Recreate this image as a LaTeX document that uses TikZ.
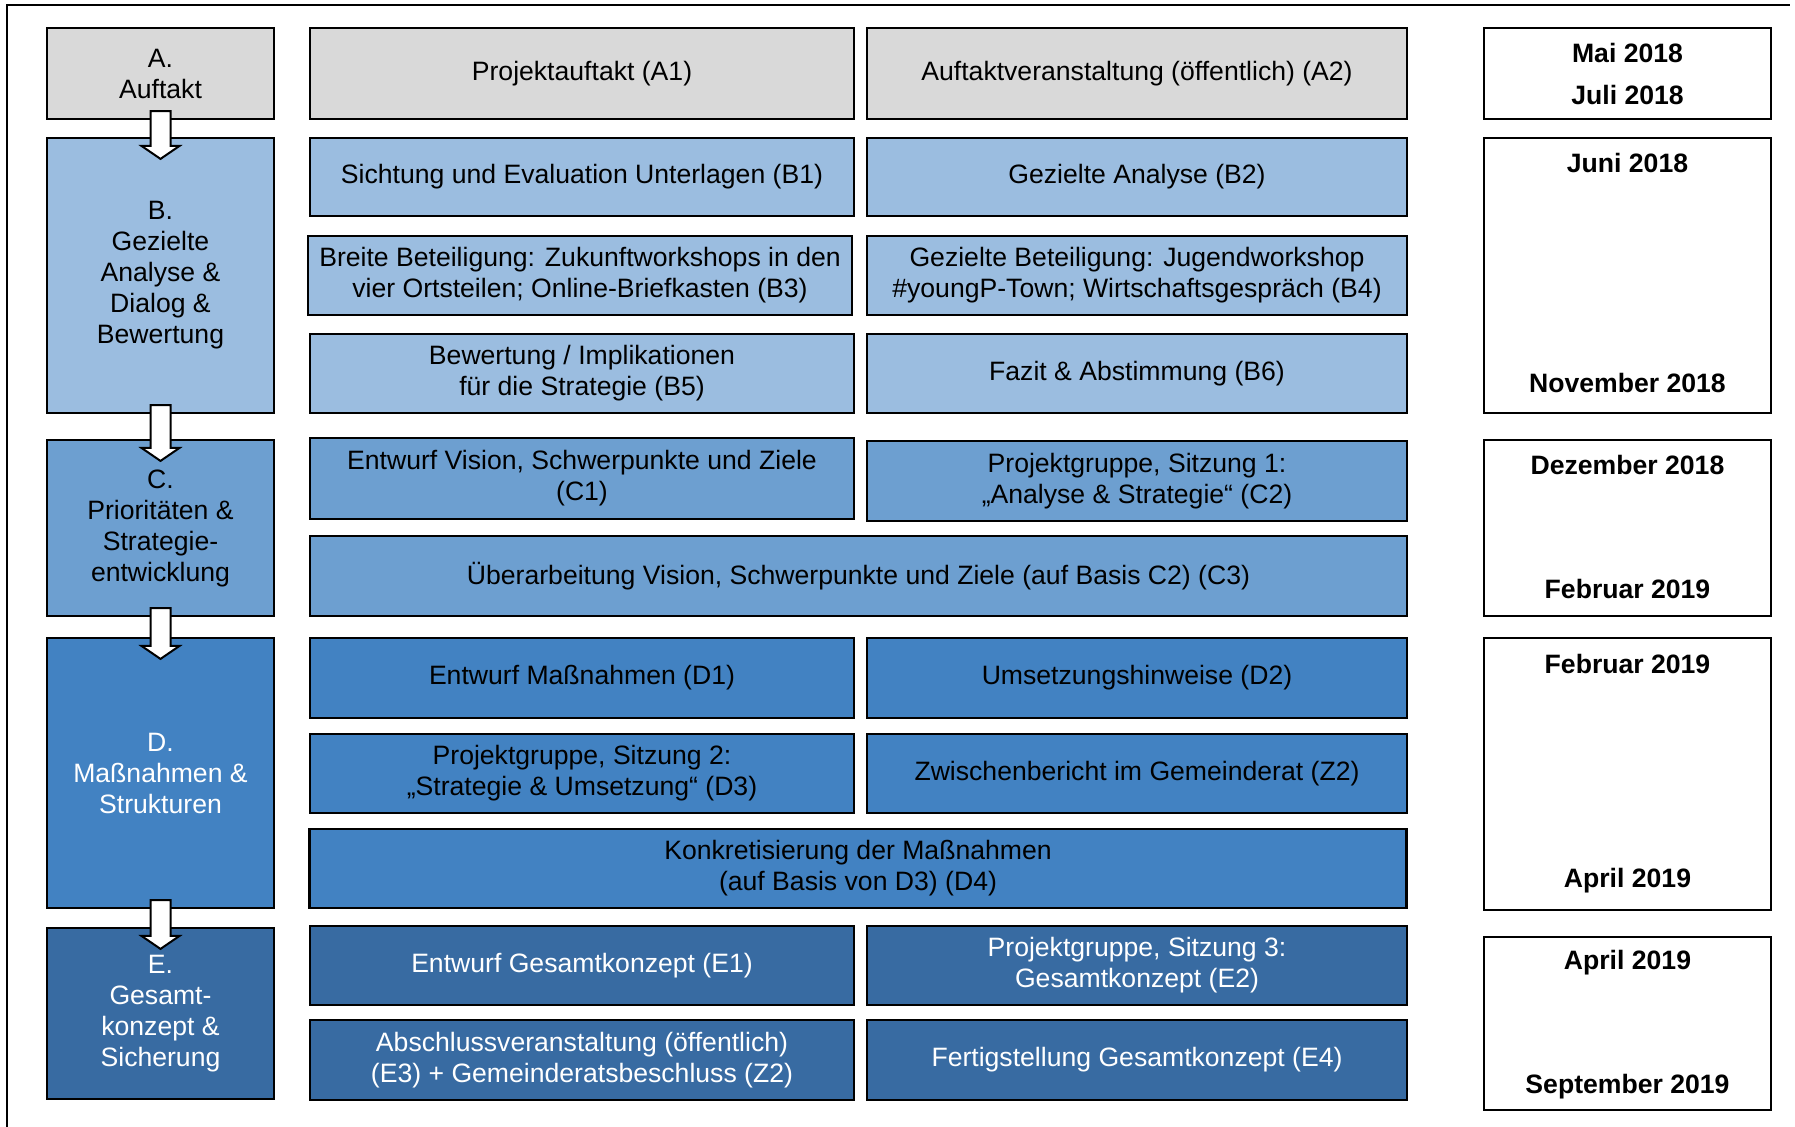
\documentclass[tikz,border=0pt]{standalone}
\usepackage{fontspec}
\setmainfont{Liberation Sans}
\usetikzlibrary{calc}
\definecolor{PhaseGrey}{HTML}{D9D9D9}
\definecolor{PhaseBlueB}{HTML}{9BBDE0}
\definecolor{PhaseBlueC}{HTML}{6D9FD0}
\definecolor{PhaseBlueD}{HTML}{4282C2}
\definecolor{PhaseBlueE}{HTML}{386BA2}

\begin{document}
\begin{tikzpicture}[x=1pt,y=-1pt,font=\fontsize{13.3}{15.5}\selectfont,
  box/.style={draw=black, line width=1.1pt, inner sep=0pt, align=center},
  tall/.style={minimum height=#1pt},
  leftcol/.style={box, minimum width=113.5pt},
  colone/.style={box, minimum width=272pt},
  coltwo/.style={box, minimum width=270pt},
  colwide/.style={box, minimum width=548.5pt},
  datecol/.style={box, minimum width=143.5pt, fill=white},
  phaseA/.style={fill=PhaseGrey, text=black},
  phaseB/.style={fill=PhaseBlueB, text=black},
  phaseC/.style={fill=PhaseBlueC, text=black},
  phaseD/.style={fill=PhaseBlueD, text=black},
  phaseE/.style={fill=PhaseBlueE, text=white},
  datetext/.style={inner sep=0pt, font=\fontsize{13.3}{15.5}\selectfont\bfseries},
  phasearrow/.style={draw=black, line width=1pt, fill=white, line join=miter}
]
\useasboundingbox (0,0) rectangle (897.5,563);
% outer frame
\draw[line width=1.3pt] (3.5,570) -- (3.5,2.5) -- (895,2.5);

% A. Auftakt
\node[leftcol, phaseA, tall=45.5] (A) at (80.25,36.75) {A.\\Auftakt};
\node[colone, phaseA, tall=45.5] (A1) at (291,36.75) {Projektauftakt (A1)};
\node[coltwo, phaseA, tall=45.5] (A2) at (568.5,36.75) {Auftaktveranstaltung (öffentlich) (A2)};
\node[datecol, tall=45.5] (dA) at (813.75,36.75) {};

% B. Analyse & Dialog
\node[leftcol, phaseB, tall=137.5] (B) at (80.25,137.75) {B.\\Gezielte\\Analyse \&\\Dialog \&\\Bewertung};
\node[colone, phaseB, tall=39] (B1) at (291,88.5) {Sichtung und Evaluation Unterlagen (B1)};
\node[coltwo, phaseB, tall=39] (B2) at (568.5,88.5) {Gezielte Analyse (B2)};
\node[colone, phaseB, tall=39.5] (B3) at (290,137.75) {Breite Beteiligung: Zukunftworkshops in den\\vier Ortsteilen; Online-Briefkasten (B3)};
\node[coltwo, phaseB, tall=39.5] (B4) at (568.5,137.75) {Gezielte Beteiligung: Jugendworkshop\\\#youngP-Town; Wirtschaftsgespräch (B4)};
\node[colone, phaseB, tall=39.5] (B5) at (291,186.75) {Bewertung / Implikationen\\für die Strategie (B5)};
\node[coltwo, phaseB, tall=39.5] (B6) at (568.5,186.75) {Fazit \& Abstimmung (B6)};
\node[datecol, tall=137.5] (dB) at (813.75,137.75) {};

% C. Strategie
\node[leftcol, phaseC, tall=88] (C) at (80.25,264) {C.\\Prioritäten \&\\Strategie-\\entwicklung};
\node[colone, phaseC, tall=40.5] (C1) at (291,239.25) {Entwurf Vision, Schwerpunkte und Ziele\\(C1)};
\node[coltwo, phaseC, tall=40] (C2) at (568.5,240.5) {Projektgruppe, Sitzung 1:\\„Analyse \& Strategie“ (C2)};
\node[colwide, phaseC, tall=40] (C3) at (429.25,288) {Überarbeitung Vision, Schwerpunkte und Ziele (auf Basis C2) (C3)};
\node[datecol, tall=88] (dC) at (813.75,264) {};

% D. Massnahmen
\node[leftcol, phaseD, tall=135, text=white] (D) at (80.25,386.5) {D.\\Maßnahmen \&\\Strukturen};
\node[colone, phaseD, tall=40] (D1) at (291,339) {Entwurf Maßnahmen (D1)};
\node[coltwo, phaseD, tall=40] (D2) at (568.5,339) {Umsetzungshinweise (D2)};
\node[colone, phaseD, tall=39.5] (D3) at (291,386.75) {Projektgruppe, Sitzung 2:\\„Strategie \& Umsetzung“ (D3)};
\node[coltwo, phaseD, tall=39.5] (Z2) at (568.5,386.75) {Zwischenbericht im Gemeinderat (Z2)};
\node[colwide, phaseD, tall=39.5] (D4) at (429,434.25) {Konkretisierung der Maßnahmen\\(auf Basis von D3) (D4)};
\node[datecol, tall=136] (dD) at (813.75,387) {};

% E. Gesamtkonzept
\node[leftcol, phaseE, tall=85.5] (E) at (80.25,506.75) {E.\\Gesamt-\\konzept \&\\Sicherung};
\node[colone, phaseE, tall=39.5] (E1) at (291,482.75) {Entwurf Gesamtkonzept (E1)};
\node[coltwo, phaseE, tall=39.5] (E2) at (568.5,482.75) {Projektgruppe, Sitzung 3:\\Gesamtkonzept (E2)};
\node[colone, phaseE, tall=40] (E3) at (291,530) {Abschlussveranstaltung (öffentlich)\\(E3) + Gemeinderatsbeschluss (Z2)};
\node[coltwo, phaseE, tall=40] (E4) at (568.5,530) {Fertigstellung Gesamtkonzept (E4)};
\node[datecol, tall=86.5] (dE) at (813.75,511.75) {};

% dates
\node[datetext] (dA1) at ($(dA.north)+(0,13)$) {Mai 2018};
\node[datetext] (dA2) at ($(dA.south)+(0,-12.5)$) {Juli 2018};
\node[datetext] (dB1) at ($(dB.north)+(0,13)$) {Juni 2018};
\node[datetext] (dB2) at ($(dB.south)+(0,-15.5)$) {November 2018};
\node[datetext] (dC1) at ($(dC.north)+(0,13)$) {Dezember 2018};
\node[datetext] (dC2) at ($(dC.south)+(0,-14)$) {Februar 2019};
\node[datetext] (dD1) at ($(dD.north)+(0,13.5)$) {Februar 2019};
\node[datetext] (dD2) at ($(dD.south)+(0,-15)$) {April 2019};
\node[datetext] (dE1) at ($(dE.north)+(0,13.5)$) {April 2019};
\node[datetext] (dE2) at ($(dE.south)+(0,-12)$) {September 2019};

% block arrows between phases
\foreach \from/\to in {A/B,B/C,C/D,D/E}
  \draw[phasearrow] let \p1=($(\from.south)+(0,-4.5)$), \p2=($(\to.north)+(0,11)$) in
    (\x1-5pt,\y1) -- (\x1+5pt,\y1) -- (\x1+5pt,\y2+6.5pt) -- (\x1+9.5pt,\y2+6.5pt)
    -- (\x1,\y2) -- (\x1-9.5pt,\y2+6.5pt) -- (\x1-5pt,\y2+6.5pt) -- cycle;
\end{tikzpicture}
\end{document}
